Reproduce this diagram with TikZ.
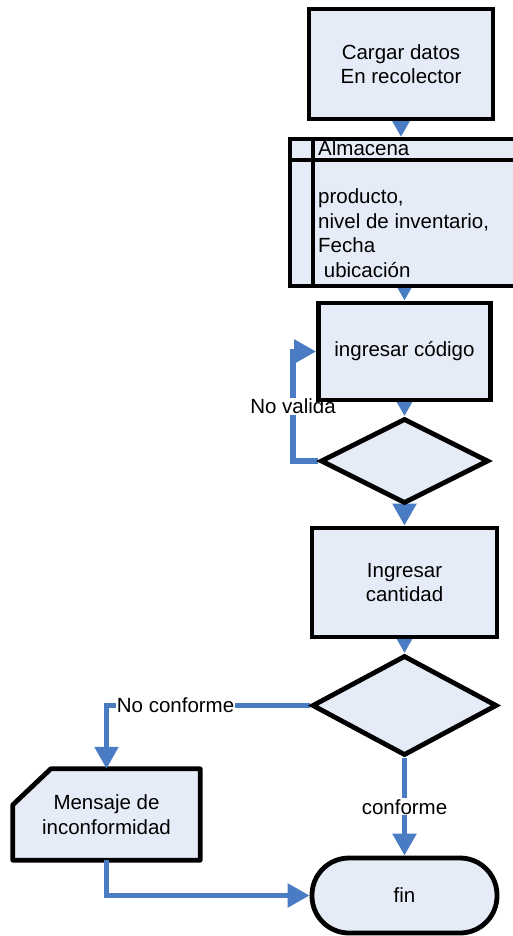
\documentclass[tikz,border=0pt]{standalone}
\usepackage{fontspec}
\setmainfont{Liberation Sans}
\usetikzlibrary{shapes.geometric,arrows.meta,calc}
\pgfdeclarelayer{background}
\pgfsetlayers{background,main}
\definecolor{boxfill}{HTML}{E6ECF7}
\definecolor{flowblue}{HTML}{4A7CC4}

\begin{document}
\begin{tikzpicture}[x=1pt,y=-1pt,
  every node/.style={font=\fontsize{20.5}{24.4}\selectfont},
  box/.style={draw=black, line width=4.8pt, fill=boxfill, align=center, inner sep=0pt},
  proc/.style={box, rectangle},
  decision/.style={box, diamond},
  flow/.style={draw=flowblue, line width=5.5pt, -{Triangle[length=22pt,width=23pt]}},
  lbl/.style={fill=white, inner sep=1pt},
]
\useasboundingbox (0,0) rectangle (513,936);

% process steps
\node[proc, minimum width=184pt, minimum height=110pt] (load) at (401,64) {Cargar datos\\En recolector};

% data store with header row and side column
\node[proc, anchor=north west, minimum width=240pt, minimum height=147pt, line width=4pt] (store) at (288,137) {};
\draw[line width=4.5pt] ($(store.north west)+(25,0)$) -- ($(store.south west)+(25,0)$);
\draw[line width=4.5pt] ($(store.north west)+(0,23)$) -- ($(store.north east)+(0,23)$);
\node[anchor=north west, inner sep=0pt, align=left] (storetext) at (318,140)
  {Almacena\\[24.4pt]producto,\\nivel de inventario,\\Fecha\\\ ubicación};

\node[proc, minimum width=172pt, minimum height=97pt] (code) at (404.5,351.5) {ingresar código};
\node[decision, minimum width=168pt, minimum height=85pt] (check) at (404.5,461) {};
\node[proc, minimum width=185pt, minimum height=109pt] (qty) at (404.5,582.5) {Ingresar\\cantidad};
\node[decision, minimum width=185pt, minimum height=100pt] (verify) at (404.5,705.5) {};
\node[minimum width=187pt, minimum height=91pt, inner sep=0pt, align=center] (msg) at (106.5,814.5) {Mensaje de\\inconformidad};
\node[proc, rounded corners=37pt, minimum width=185pt, minimum height=75pt] (fin) at (404.5,895.5) {fin};

\begin{pgfonlayer}{background}
  % message shape with cut corner
  \draw[line width=4.8pt, fill=boxfill, line join=round]
    ($(msg.north west)+(38,0)$) -- (msg.north east) -- (msg.south east)
    -- (msg.south west) -- ($(msg.north west)+(0,36)$) -- cycle;

  % connectors
  \draw[flow] (load.south) -- (load.south |- store.north);
  \draw[flow] (store.south -| code.north) -- (code.north);
  \draw[flow] (code.south) -- (check.north);
  \draw[flow] (check.west) -| node[lbl, pos=0.75] {No valida} ([xshift=-23pt]code.west) -- (code.west);
  \draw[flow] (check.south) -- (qty.north);
  \draw[flow] (qty.south) -- (verify.north);
  \draw[flow] (verify.south) -- node[lbl] {conforme} (fin.north);
  \draw[flow] (verify.west) -| node[lbl, pos=0.33] {No conforme} (msg.north);
  \draw[flow] (msg.south) |- (fin.west);
\end{pgfonlayer}
\end{tikzpicture}
\end{document}
